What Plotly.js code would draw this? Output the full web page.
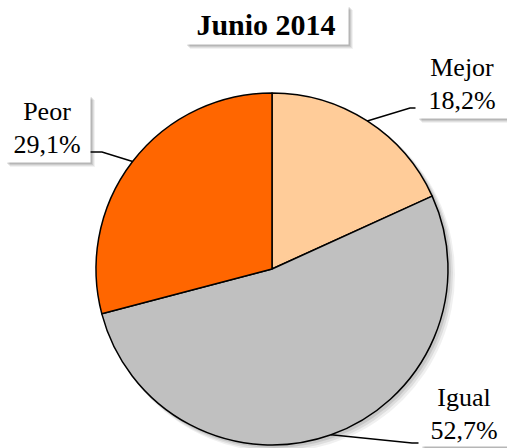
<!DOCTYPE html>
<html>
<head>
<meta charset="utf-8">
<script src="https://cdn.plot.ly/plotly-3.0.1.min.js"></script>
<style>html,body{margin:0;padding:0;background:#fff}#chart{width:507px;height:448px}</style>
</head>
<body>
<div id="chart"></div>
<script>
// ---- data ----
var titleText = "Junio 2014";
var categories = ["Mejor", "Igual", "Peor"];
var values = [18.2, 52.7, 29.1];
var colors = ["#FFCC99", "#C0C0C0", "#FF6600"];

// ---- layout geometry (pixels) ----
var W = 507, H = 448;
var cx = 272, cy = 269, R = 176;
var FONT = "Liberation Serif, Times New Roman, serif";

// label boxes: centre, size, elbow & end of leader line
var labelBoxes = [
  {x: 462, y: 84, w: 90, h: 66, elbow: [410, 108], end: [418, 108]},
  {x: 464, y: 414, w: 88, h: 62, elbow: [412, 443], end: [424, 443]},
  {x: 47, y: 128, w: 84, h: 66, elbow: [102, 152], end: [90, 152]}
];
var titleBox = {x: 266, y: 24, w: 162, h: 38};

function px(x) { return x / W; }
function py(y) { return 1 - y / H; }
function fmt(v) { return v.toFixed(1).replace(".", ",") + "%"; }

var total = values.reduce(function (a, b) { return a + b; }, 0);
var shapes = [];
var annotations = [];

// soft drop shadow made of stacked translucent rectangles
function boxShadow(b) {
  var steps = [[6, 0.05], [5, 0.07], [4, 0.09], [3, 0.10]];
  steps.forEach(function (s) {
    var o = s[0];
    shapes.push({type: "rect", xref: "paper", yref: "paper", layer: "above",
      x0: px(b.x - b.w / 2 + o - 1), x1: px(b.x + b.w / 2 + o),
      y0: py(b.y + b.h / 2 + o), y1: py(b.y - b.h / 2 + o - 1),
      fillcolor: "rgba(0,0,0," + s[1] + ")", line: {width: 0}});
  });
}

// pie shadow
[[7, 0.06], [5, 0.08], [3, 0.10]].forEach(function (s) {
  var o = s[0];
  shapes.push({type: "circle", xref: "paper", yref: "paper", layer: "below",
    x0: px(cx - R + o / 2), x1: px(cx + R + o), y0: py(cy + R + o), y1: py(cy - R + o / 2),
    fillcolor: "rgba(0,0,0," + s[1] + ")", line: {width: 0}});
});

boxShadow(titleBox);

var cum = 0;
for (var i = 0; i < values.length; i++) {
  var mid = (cum + values[i] / 2) / total * 2 * Math.PI;
  cum += values[i];
  var ex = cx + R * Math.sin(mid), ey = cy - R * Math.cos(mid);
  var lb = labelBoxes[i];
  boxShadow(lb);
  shapes.push({type: "path", xref: "paper", yref: "paper", layer: "above",
    path: "M" + px(ex) + "," + py(ey) + " L" + px(lb.elbow[0]) + "," + py(lb.elbow[1]) +
          " L" + px(lb.end[0]) + "," + py(lb.end[1]),
    line: {color: "#000", width: 1.5}});
  annotations.push({xref: "paper", yref: "paper", x: px(lb.x), y: py(lb.y),
    xanchor: "center", yanchor: "middle", showarrow: false,
    text: categories[i] + "<br>" + fmt(values[i]), width: lb.w, height: lb.h, bgcolor: "#fff",
    font: {family: FONT, size: 26, color: "#000"}});
}

annotations.push({xref: "paper", yref: "paper", x: px(titleBox.x), y: py(titleBox.y),
  xanchor: "center", yanchor: "middle", showarrow: false,
  text: "<b>" + titleText + "</b>", width: titleBox.w, height: titleBox.h, bgcolor: "#fff",
  font: {family: FONT, size: 30, color: "#000"}});

var trace = {
  type: "pie",
  labels: categories,
  values: values,
  sort: false,
  direction: "clockwise",
  rotation: 0,
  textinfo: "none",
  hoverinfo: "skip",
  marker: {colors: colors, line: {color: "#000", width: 1.5}},
  domain: {x: [px(cx - R), px(cx + R)], y: [py(cy + R), py(cy - R)]},
  showlegend: false
};

var layout = {
  width: W, height: H,
  margin: {l: 0, r: 0, t: 0, b: 0},
  paper_bgcolor: "#fff",
  showlegend: false,
  shapes: shapes,
  annotations: annotations
};

Plotly.newPlot("chart", [trace], layout, {displayModeBar: false, staticPlot: true});
</script>
</body>
</html>
